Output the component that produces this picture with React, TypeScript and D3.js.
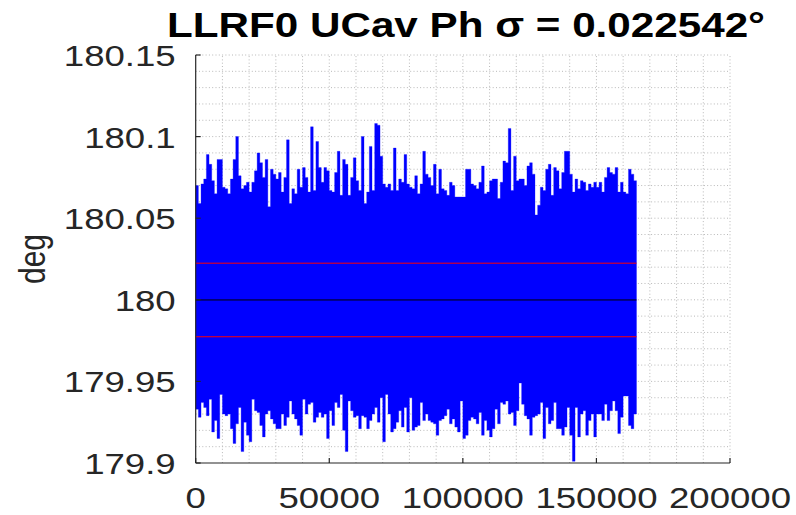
import React from "react";
import * as d3 from "d3";

// ---- data ----
const SAMPLES_PER_BIN = 1000;
const sigma = 0.022542;
const meanValue = 179.9999;
const titleText = `LLRF0 UCav Ph σ = ${sigma.toFixed(6)}°`;
const yLabel = "deg";
const xTicks = [0, 50000, 100000, 150000, 200000];
const yTicks = [179.9, 179.95, 180, 180.05, 180.1, 180.15];

// per-bin maximum of the phase signal (deg)
const binMax = [
  180.070, 180.059, 180.071, 180.074, 180.089, 180.083, 180.073, 180.065, 180.086, 180.086,
  180.069, 180.068, 180.065, 180.074, 180.086, 180.100, 180.076, 180.068, 180.070, 180.072,
  180.066, 180.072, 180.079, 180.090, 180.084, 180.075, 180.086, 180.057, 180.080, 180.077,
  180.074, 180.078, 180.066, 180.075, 180.098, 180.059, 180.068, 180.065, 180.080, 180.069,
  180.081, 180.075, 180.066, 180.106, 180.067, 180.097, 180.081, 180.072, 180.081, 180.079,
  180.067, 180.066, 180.078, 180.091, 180.064, 180.086, 180.083, 180.064, 180.075, 180.087,
  180.073, 180.067, 180.100, 180.059, 180.066, 180.094, 180.067, 180.108, 180.107, 180.088,
  180.071, 180.069, 180.071, 180.067, 180.093, 180.067, 180.074, 180.072, 180.089, 180.071,
  180.069, 180.068, 180.076, 180.065, 180.071, 180.091, 180.077, 180.075, 180.070, 180.083,
  180.065, 180.080, 180.068, 180.067, 180.064, 180.072, 180.070, 180.063, 180.063, 180.063,
  180.063, 180.080, 180.080, 180.071, 180.070, 180.068, 180.072, 180.082, 180.065, 180.066,
  180.073, 180.074, 180.074, 180.062, 180.072, 180.085, 180.084, 180.105, 180.067, 180.088,
  180.073, 180.074, 180.074, 180.070, 180.082, 180.084, 180.077, 180.052, 180.058, 180.069,
  180.067, 180.080, 180.083, 180.064, 180.081, 180.079, 180.068, 180.078, 180.091, 180.091,
  180.077, 180.066, 180.074, 180.068, 180.073, 180.072, 180.067, 180.071, 180.069, 180.072,
  180.069, 180.072, 180.066, 180.075, 180.081, 180.078, 180.077, 180.081, 180.066, 180.072,
  180.066, 180.065, 180.080, 180.077, 180.073,
];

// per-bin minimum of the phase signal (deg)
const binMin = [
  179.933, 179.928, 179.937, 179.934, 179.929, 179.939, 179.919, 179.926, 179.915, 179.942,
  179.930, 179.929, 179.930, 179.921, 179.912, 179.924, 179.934, 179.907, 179.925, 179.917,
  179.913, 179.939, 179.932, 179.931, 179.923, 179.916, 179.930, 179.932, 179.927, 179.924,
  179.921, 179.921, 179.930, 179.923, 179.928, 179.938, 179.930, 179.927, 179.923, 179.917,
  179.939, 179.930, 179.936, 179.937, 179.925, 179.928, 179.931, 179.928, 179.930, 179.915,
  179.932, 179.923, 179.937, 179.934, 179.942, 179.920, 179.907, 179.938, 179.932, 179.928,
  179.929, 179.921, 179.929, 179.928, 179.921, 179.926, 179.930, 179.934, 179.925, 179.940,
  179.913, 179.942, 179.930, 179.919, 179.921, 179.925, 179.932, 179.922, 179.934, 179.919,
  179.940, 179.920, 179.922, 179.923, 179.937, 179.926, 179.930, 179.926, 179.925, 179.924,
  179.917, 179.926, 179.927, 179.929, 179.933, 179.924, 179.927, 179.922, 179.919, 179.938,
  179.915, 179.917, 179.926, 179.928, 179.927, 179.924, 179.931, 179.917, 179.926, 179.920,
  179.916, 179.921, 179.933, 179.924, 179.937, 179.936, 179.938, 179.930, 179.931, 179.923,
  179.932, 179.949, 179.936, 179.929, 179.927, 179.917, 179.928, 179.929, 179.930, 179.937,
  179.915, 179.934, 179.924, 179.926, 179.937, 179.921, 179.921, 179.917, 179.922, 179.934,
  179.917, 179.901, 179.934, 179.916, 179.930, 179.932, 179.917, 179.926, 179.930, 179.916,
  179.930, 179.930, 179.926, 179.936, 179.926, 179.932, 179.938, 179.932, 179.918, 179.928,
  179.941, 179.941, 179.923, 179.921, 179.930,
];

// ---- layout ----
const W = 796;
const H = 515;
const L = 195.7;
const R = 730;
const T = 55;
const B = 463;
const FS = 30;
const SX = 1.22;
const TXT = "#262626";
const FONT = "'Liberation Sans', Arial, Helvetica, sans-serif";

export default function App() {
  const x = d3.scaleLinear().domain([0, 200000]).range([L, R]);
  const y = d3.scaleLinear().domain([179.9, 180.15]).range([B, T]);

  const n = binMax.length;
  const idx = d3.range(n + 1);
  const area = d3
    .area<number>()
    .x((i) => x(i * SAMPLES_PER_BIN))
    .y0((i) => y(binMin[Math.min(i, n - 1)]))
    .y1((i) => y(binMax[Math.min(i, n - 1)]))
    .curve(d3.curveStepAfter);

  const xEnd = x(n * SAMPLES_PER_BIN);
  const xGrid = d3.range(10000, 200001, 10000);
  const yGrid = d3.range(1, 26).map((k) => 179.9 + k * 0.01);

  const fmtY = (v: number) => String(+v.toFixed(2));

  return (
    <svg
      width={W}
      height={H}
      style={{ position: "absolute", left: 0, top: 0, background: "#fff" }}
      fontFamily={FONT}
    >
      <rect x={0} y={0} width={W} height={H} fill="#fff" />
      {/* grid */}
      <g stroke="#b8b8b8" strokeWidth={1} strokeDasharray="1,2.3">
        {xGrid.map((v) => (
          <line key={"gx" + v} x1={x(v)} x2={x(v)} y1={B} y2={T} />
        ))}
        {yGrid.map((v) => (
          <line key={"gy" + v} x1={L} x2={R} y1={y(v)} y2={y(v)} />
        ))}
      </g>

      {/* signal */}
      <path d={area(idx) || ""} fill="#0000ff" stroke="#0000ff" strokeWidth={0.3} />

      {/* mean and +/- sigma */}
      <line x1={x(0)} x2={xEnd} y1={y(meanValue)} y2={y(meanValue)} stroke="#000" strokeWidth={1} />
      <line x1={x(0)} x2={xEnd} y1={y(meanValue + sigma)} y2={y(meanValue + sigma)} stroke="#ff0000" strokeWidth={1} />
      <line x1={x(0)} x2={xEnd} y1={y(meanValue - sigma)} y2={y(meanValue - sigma)} stroke="#ff0000" strokeWidth={1} />

      {/* axes */}
      <g stroke={TXT} strokeWidth={1.2} fill="none">
        <line x1={L} x2={L} y1={T} y2={B} />
        <line x1={L} x2={R} y1={B} y2={B} />
        {yTicks.map((v) => (
          <line key={"ty" + v} x1={L} x2={L + 5} y1={y(v)} y2={y(v)} />
        ))}
        {xTicks.map((v) => (
          <line key={"tx" + v} x1={x(v)} x2={x(v)} y1={B} y2={B - 5} />
        ))}
      </g>

      {/* tick labels */}
      {yTicks.map((v) => (
        <text
          key={"ly" + v}
          transform={`translate(${L - 20},${y(v) + 11}) scale(${SX},1)`}
          textAnchor="end"
          fontSize={FS}
          fill={TXT}
        >
          {fmtY(v)}
        </text>
      ))}
      {xTicks.map((v) => (
        <text
          key={"lx" + v}
          transform={`translate(${x(v)},${B + 45}) scale(${SX},1)`}
          textAnchor="middle"
          fontSize={FS}
          fill={TXT}
        >
          {String(v)}
        </text>
      ))}

      {/* y label */}
      <text
        transform={`translate(45,${(T + B) / 2 + 0}) scale(${SX},1) rotate(-90)`}
        textAnchor="middle"
        fontSize={FS}
        fill={TXT}
      >
        {yLabel}
      </text>

      {/* title */}
      <text
        x={466}
        y={37}
        textAnchor="middle"
        fontSize={35}
        fontWeight="bold"
        fill="#000"
        textLength={598}
        lengthAdjust="spacingAndGlyphs"
      >
        {titleText}
      </text>
    </svg>
  );
}
